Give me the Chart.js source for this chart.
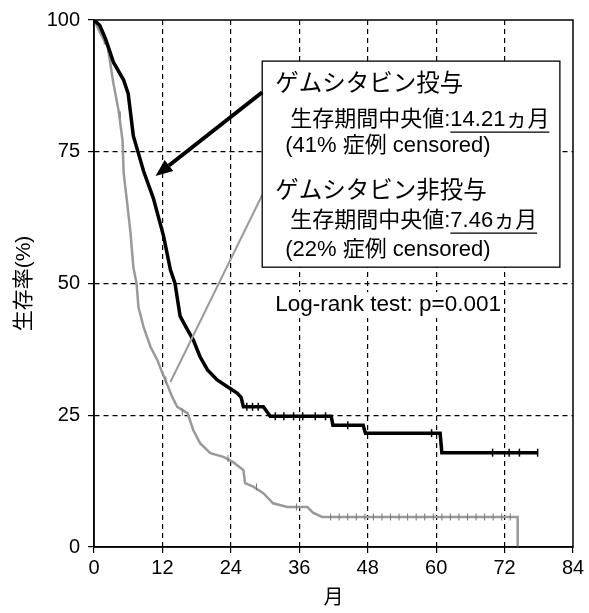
<!DOCTYPE html>
<html>
<head>
<meta charset="utf-8">
<script src="https://cdn.jsdelivr.net/npm/chart.js@4.4.0/dist/chart.umd.min.js"></script>
<style>
  html, body { margin: 0; padding: 0; background: #fff; }
  canvas { display: block; }
</style>
</head>
<body>
<canvas id="km" width="589" height="613"></canvas>
<script>
// axis ticks
const monthTicks = [0, 12, 24, 36, 48, 60, 72, 84];
const survivalTicks = [0, 25, 50, 75, 100];

// ゲムシタビン投与 (black)
const gemMonths = [0, 1, 2.0, 3.4, 5.2, 6.0, 6.9, 8.7, 10.4, 12.2, 13.4, 14.21, 15.1, 16.4, 17.4, 18.6,
  19.9, 21.6, 23.4, 25.1, 25.8, 26.2, 29.7, 30.9, 41.6, 41.9, 47.2, 47.6, 60.7, 61.0, 77.8];
const gemSurvival = [100, 99, 96.5, 92, 88.6, 86, 78, 71.3, 66.2, 59, 52.6, 50, 43.8, 41.2, 39.3, 36.1,
  33.6, 31.7, 30.4, 29.2, 28.4, 26.6, 26.6, 24.8, 24.8, 23.1, 23.1, 21.6, 21.6, 17.9, 17.9];
const gemCensorMonths = [26.8, 27.8, 28.8, 31.8, 33.3, 35.0, 36.6, 38.8, 40.6, 44.5, 59.2, 69.9, 72.8, 74.6, 77.8];
const gemCensorSurvival = [26.6, 26.6, 26.6, 24.8, 24.8, 24.8, 24.8, 24.8, 24.8, 23.1, 21.6, 17.9, 17.9, 17.9, 17.9];

// ゲムシタビン非投与 (gray)
const nonMonths = [0, 1.1, 2.4, 3.4, 4.3, 5.0, 5.2, 5.9, 6.4, 6.9, 7.46, 7.8, 8.7, 9.9, 11.1, 12.0, 12.5,
  13.7, 14.6, 16.4, 17.4, 18.6, 20.4, 22.7, 24.4, 26.2, 26.5, 28.0, 29.7, 31.4, 33.9, 37.4, 38.4, 40.0, 74.3, 74.3];
const nonSurvival = [100, 97.5, 94.9, 88, 82.9, 77.2, 71, 64.5, 59.6, 53.1, 50, 45.5, 41.7, 38, 35.5, 33, 31.7,
  28.5, 26.6, 25.4, 22.2, 19.7, 17.8, 17.1, 16.1, 14.6, 12.1, 11.4, 10.2, 8.3, 7.6, 7.6, 6.5, 5.7, 5.7, 0];
const nonCensorMonths = [1.8, 4.6, 12.6, 15.5, 23.5, 28.5, 35.5, 41.5, 43, 44.5, 46, 47.5, 49, 50.5, 52, 53.5, 55,
  56.5, 58, 59.5, 61, 62.5, 64, 65.5, 67, 68.5, 70, 71.5, 73];
const nonCensorSurvival = [96, 82, 31.7, 25.6, 16.8, 11.4, 7.6, 5.7, 5.7, 5.7, 5.7, 5.7, 5.7, 5.7, 5.7, 5.7, 5.7,
  5.7, 5.7, 5.7, 5.7, 5.7, 5.7, 5.7, 5.7, 5.7, 5.7, 5.7, 5.7];

const toPoints = (xs, ys) => xs.map((v, i) => ({ x: v, y: ys[i] }));

const LATIN = '"Liberation Sans", Arial, sans-serif';
const MIXED = '"Liberation Sans", "Noto Sans CJK JP", sans-serif';

// white page background
const background = {
  id: 'background',
  beforeDraw(chart) {
    const ctx = chart.ctx;
    ctx.save();
    ctx.fillStyle = '#fff';
    ctx.fillRect(0, 0, chart.width, chart.height);
    ctx.restore();
  }
};

// box, arrows and texts on top of the curves
const annotations = {
  id: 'annotations',
  afterDatasetsDraw(chart) {
    const { ctx, chartArea, scales: { x, y } } = chart;
    ctx.save();

    // frame around the plot
    ctx.strokeStyle = '#000';
    ctx.lineWidth = 1.5;
    ctx.strokeRect(chartArea.left, chartArea.top, chartArea.right - chartArea.left, chartArea.bottom - chartArea.top);

    // gray pointer to the non-gemcitabine curve
    ctx.strokeStyle = '#9a9a9a';
    ctx.lineWidth = 2;
    ctx.beginPath();
    ctx.moveTo(x.getPixelForValue(13.4), y.getPixelForValue(31.3));
    ctx.lineTo(x.getPixelForValue(29.5), y.getPixelForValue(66.8));
    ctx.stroke();

    // legend box
    const bl = x.getPixelForValue(29.5), br = x.getPixelForValue(81.7);
    const bt = y.getPixelForValue(92.2), bb = y.getPixelForValue(53.1);
    ctx.fillStyle = '#fff';
    ctx.fillRect(bl, bt, br - bl, bb - bt);
    ctx.strokeStyle = '#000';
    ctx.lineWidth = 1.3;
    ctx.strokeRect(bl, bt, br - bl, bb - bt);

    const lines = [
      { text: 'ゲムシタビン投与', dx: 13, dy: 23, size: 23.5 },
      { text: '生存期間中央値:', under: '14.21ヵ月', dx: 28, dy: 59, size: 22 },
      { text: '(41% 症例 censored)', dx: 23, dy: 85, size: 22 },
      { text: 'ゲムシタビン非投与', dx: 13, dy: 130, size: 23.5 },
      { text: '生存期間中央値:', under: '7.46ヵ月', dx: 28, dy: 160, size: 22 },
      { text: '(22% 症例 censored)', dx: 23, dy: 189, size: 22 }
    ];
    ctx.fillStyle = '#000';
    ctx.textBaseline = 'middle';
    ctx.textAlign = 'left';
    lines.forEach(l => {
      ctx.font = l.size + 'px ' + MIXED;
      const tx = bl + l.dx, ty = bt + l.dy;
      ctx.fillText(l.text, tx, ty);
      if (l.under) {
        const ux = tx + ctx.measureText(l.text).width;
        ctx.fillText(l.under, ux, ty);
        const uw = ctx.measureText(l.under).width;
        ctx.lineWidth = 1.2;
        ctx.beginPath();
        ctx.moveTo(ux, ty + l.size * 0.55);
        ctx.lineTo(ux + uw, ty + l.size * 0.55);
        ctx.stroke();
      }
    });

    // black arrow to the gemcitabine curve
    const ax1 = x.getPixelForValue(29.5), ay1 = y.getPixelForValue(86.3);
    const ax2 = x.getPixelForValue(10.8), ay2 = y.getPixelForValue(70.4);
    const ang = Math.atan2(ay2 - ay1, ax2 - ax1);
    const headLen = 17, headW = 7;
    const bx = ax2 - headLen * Math.cos(ang), by = ay2 - headLen * Math.sin(ang);
    ctx.strokeStyle = '#000';
    ctx.lineWidth = 4;
    ctx.beginPath();
    ctx.moveTo(ax1, ay1);
    ctx.lineTo(bx, by);
    ctx.stroke();
    ctx.beginPath();
    ctx.moveTo(ax2, ay2);
    ctx.lineTo(bx + headW * Math.sin(ang), by - headW * Math.cos(ang));
    ctx.lineTo(bx - headW * Math.sin(ang), by + headW * Math.cos(ang));
    ctx.closePath();
    ctx.fillStyle = '#000';
    ctx.fill();

    // log-rank text
    ctx.font = '22.5px ' + LATIN;
    const lr = 'Log-rank test: p=0.001';
    const lx = bl + 13, ly = y.getPixelForValue(45.9);
    const lw = ctx.measureText(lr).width;
    ctx.fillStyle = '#fff';
    ctx.fillRect(lx - 3, ly - 13, lw + 6, 26);
    ctx.fillStyle = '#000';
    ctx.fillText(lr, lx, ly);

    ctx.restore();
  }
};

const hideEdge = (lo, hi) => c => (c.tick && (c.tick.value === lo || c.tick.value === hi)) ? 'rgba(0,0,0,0)' : '#000';

new Chart(document.getElementById('km'), {
  type: 'line',
  data: {
    datasets: [
      {
        label: 'ゲムシタビン投与 censored',
        data: toPoints(gemCensorMonths, gemCensorSurvival),
        showLine: false,
        pointStyle: 'line',
        rotation: 90,
        pointRadius: 4,
        borderColor: '#000',
        borderWidth: 1.5
      },
      {
        label: 'ゲムシタビン投与',
        data: toPoints(gemMonths, gemSurvival),
        borderColor: '#000',
        borderWidth: 3.5,
        pointRadius: 0,
        tension: 0
      },
      {
        label: 'ゲムシタビン非投与 censored',
        data: toPoints(nonCensorMonths, nonCensorSurvival),
        showLine: false,
        pointStyle: 'line',
        rotation: 90,
        pointRadius: 3.5,
        borderColor: '#777',
        borderWidth: 1
      },
      {
        label: 'ゲムシタビン非投与',
        data: toPoints(nonMonths, nonSurvival),
        borderColor: '#999',
        borderWidth: 2.5,
        pointRadius: 0,
        tension: 0
      }
    ]
  },
  options: {
    responsive: false,
    animation: false,
    devicePixelRatio: 1,
    layout: { padding: { top: 20, right: 16, left: 0, bottom: 0 } },
    plugins: { legend: { display: false }, tooltip: { enabled: false } },
    scales: {
      x: {
        type: 'linear',
        min: 0,
        max: 84,
        afterBuildTicks: s => { s.ticks = monthTicks.map(v => ({ value: v })); },
        afterFit: s => { s.height = 66; },
        ticks: { color: '#000', font: { size: 20, family: LATIN }, padding: 3, maxRotation: 0 },
        grid: { color: hideEdge(0, 84), lineWidth: 1.2, tickLength: 6, tickColor: '#000', tickBorderDash: [] },
        border: { display: true, color: '#000', width: 1.5, dash: [5, 4] },
        title: { display: true, text: '月', color: '#000', font: { size: 20, family: MIXED }, padding: { top: 0, bottom: 3 } }
      },
      y: {
        min: 0,
        max: 100,
        afterBuildTicks: s => { s.ticks = survivalTicks.map(v => ({ value: v })); },
        afterFit: s => { s.width = 94; },
        ticks: { color: '#000', font: { size: 20, family: LATIN }, padding: 8 },
        grid: { color: hideEdge(0, 100), lineWidth: 1.2, tickLength: 6, tickColor: '#000', tickBorderDash: [] },
        border: { display: true, color: '#000', width: 1.5, dash: [5, 4] },
        title: { display: true, text: '生存率(%)', color: '#000', font: { size: 21, family: MIXED }, padding: { top: 12, bottom: 0 } }
      }
    }
  },
  plugins: [background, annotations]
});
</script>
</body>
</html>
